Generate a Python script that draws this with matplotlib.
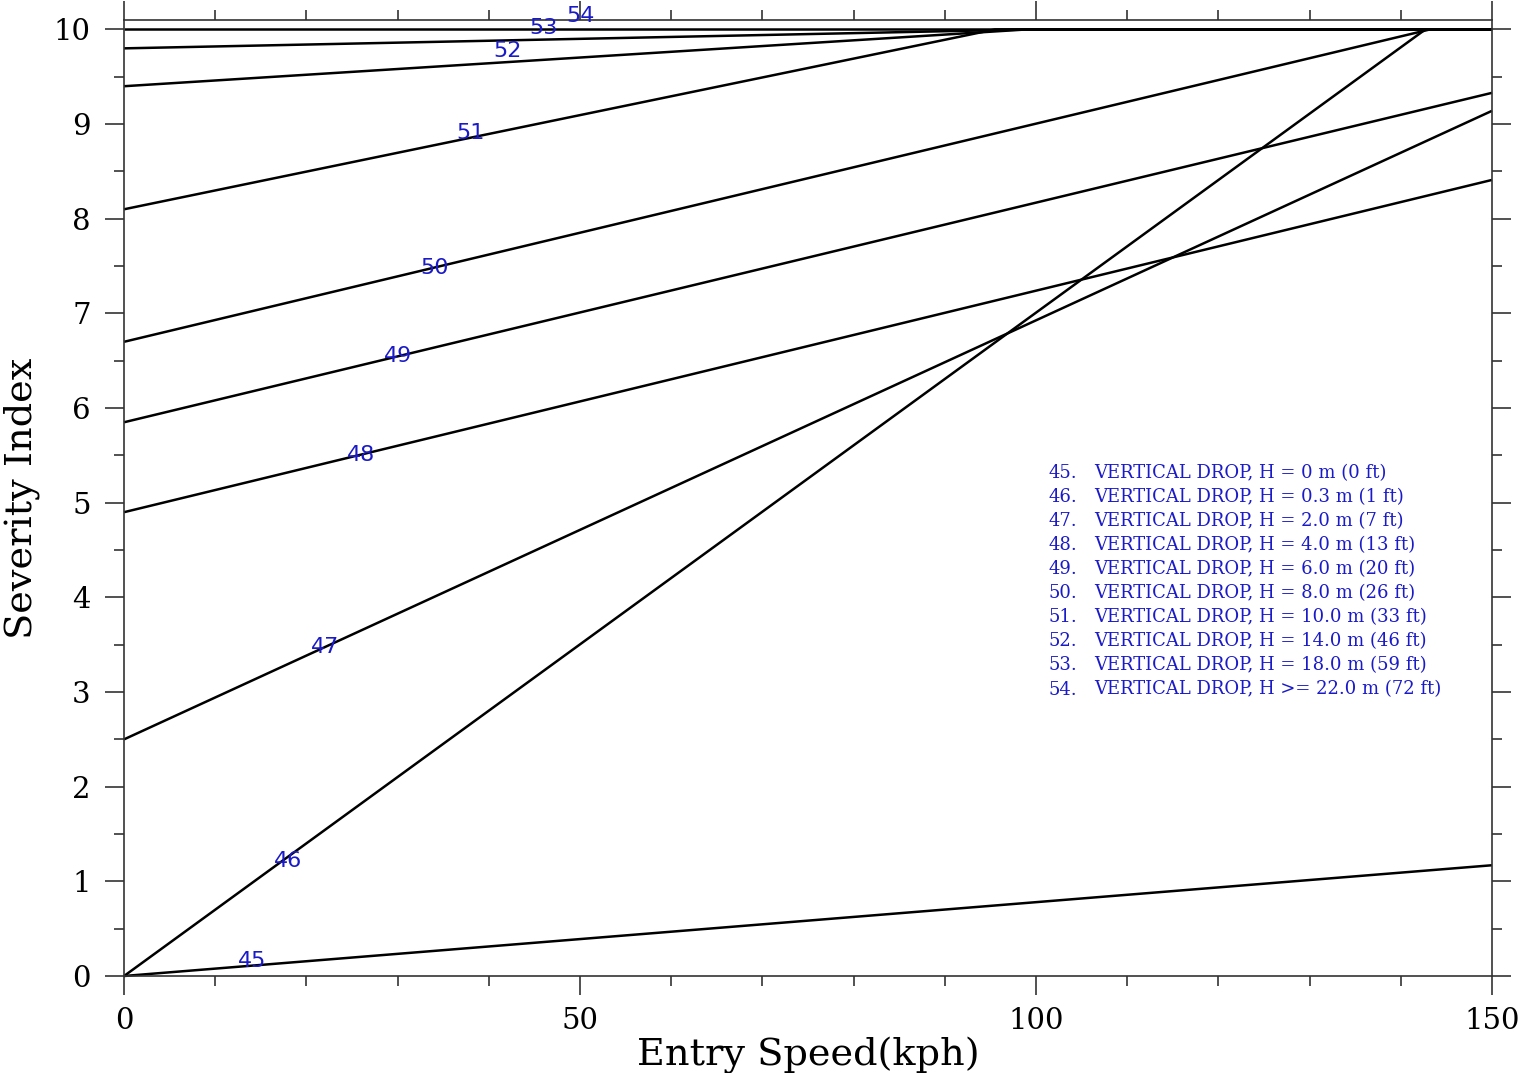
import numpy as np
import matplotlib.pyplot as plt
from matplotlib.ticker import MultipleLocator

# vertex points of each curve (speed in kph, severity index)
curve_ids = [45, 46, 47, 48, 49, 50, 51, 52, 53, 54]
curve_speed = [
    [0, 150],
    [0, 142.7, 150],
    [0, 150],
    [0, 150],
    [0, 150],
    [0, 143.2, 150],
    [0, 95.5, 150],
    [0, 99.0, 150],
    [0, 99.5, 150],
    [0, 150],
]
curve_si = [
    [0.0, 1.17],
    [0.0, 10.0, 10.0],
    [2.5, 9.14],
    [4.9, 8.41],
    [5.85, 9.33],
    [6.7, 10.0, 10.0],
    [8.1, 10.0, 10.0],
    [9.4, 10.0, 10.0],
    [9.8, 10.0, 10.0],
    [10.0, 10.0],
]
# speeds where the curve numbers are written
label_speed = [14, 18, 22, 26, 30, 34, 38, 42, 46, 50]
label_lift = [0.05, -0.05, 0, 0, 0, 0, 0.05, 0.12, 0.12, 0.14]

legend_lines = [
    "VERTICAL DROP, H = 0 m (0 ft)",
    "VERTICAL DROP, H = 0.3 m (1 ft)",
    "VERTICAL DROP, H = 2.0 m (7 ft)",
    "VERTICAL DROP, H = 4.0 m (13 ft)",
    "VERTICAL DROP, H = 6.0 m (20 ft)",
    "VERTICAL DROP, H = 8.0 m (26 ft)",
    "VERTICAL DROP, H = 10.0 m (33 ft)",
    "VERTICAL DROP, H = 14.0 m (46 ft)",
    "VERTICAL DROP, H = 18.0 m (59 ft)",
    "VERTICAL DROP, H >= 22.0 m (72 ft)",
]

blue = "#1a1ac8"

fig = plt.figure(figsize=(15.26, 10.73), dpi=100)
ax = fig.add_axes([0.0813, 0.0904, 0.8964, 0.891])

for xs, ys in zip(curve_speed, curve_si):
    ax.plot(xs, ys, color="black", lw=1.8, solid_capstyle="butt", clip_on=False)

for cid, sx, lift, xs, ys in zip(curve_ids, label_speed, label_lift, curve_speed, curve_si):
    sy = np.interp(sx, xs, ys) + lift
    ax.text(sx, sy, str(cid), color=blue, fontsize=16, ha="center", va="center",
            family="DejaVu Sans")

# legend block
y0 = 5.31
dy = 0.2537
for i, (cid, txt) in enumerate(zip(curve_ids, legend_lines)):
    y = y0 - i * dy
    ax.text(101.4, y, f"{cid}.", color=blue, fontsize=13, va="center",
            family="DejaVu Serif")
    ax.text(106.4, y, txt, color=blue, fontsize=13, va="center",
            family="DejaVu Serif")

ax.set_xlim(0, 150)
ax.set_ylim(0, 10.1)

ax.xaxis.set_major_locator(MultipleLocator(50))
ax.xaxis.set_minor_locator(MultipleLocator(10))
ax.yaxis.set_major_locator(MultipleLocator(1))
ax.yaxis.set_minor_locator(MultipleLocator(0.5))

ax.tick_params(which="both", direction="out", top=True, right=True,
               labeltop=False, labelright=False, color="#333333", width=1.2)
ax.tick_params(which="major", length=14)
ax.tick_params(which="minor", length=7)
ax.tick_params(axis="x", which="major", pad=8)
ax.tick_params(axis="y", which="major", pad=10)

for lab in ax.get_xticklabels() + ax.get_yticklabels():
    lab.set_family("DejaVu Serif")
    lab.set_fontsize(21)

for sp in ax.spines.values():
    sp.set_linewidth(1.2)
    sp.set_color("#333333")

ax.set_xlabel("Entry Speed(kph)", family="DejaVu Serif", fontsize=27.5, labelpad=2)
ax.set_ylabel("Severity Index", family="DejaVu Serif", fontsize=27.5, labelpad=10)

fig.savefig("out.png", dpi=100)
